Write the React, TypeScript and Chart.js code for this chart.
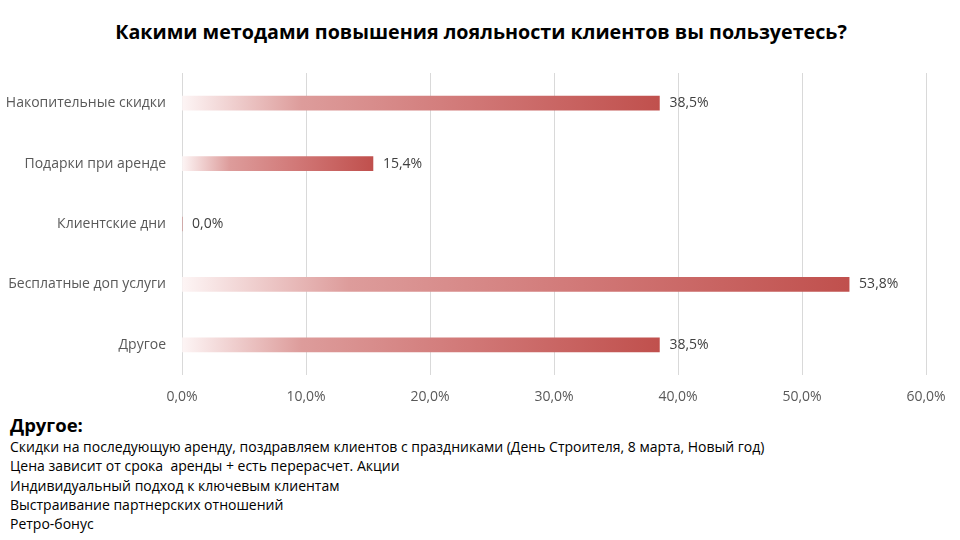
import { useEffect, useRef } from "react";
import { Chart, registerables } from "chart.js";

Chart.register(...registerables);

const title = "Какими методами повышения лояльности клиентов вы пользуетесь?";
const categories = [
  "Накопительные скидки",
  "Подарки при аренде",
  "Клиентские дни",
  "Бесплатные доп услуги",
  "Другое",
];
const shares = [38.5, 15.4, 0.0, 53.8, 38.5];
const otherHeading = "Другое:";
const otherAnswers = [
  "Скидки на последующую аренду, поздравляем клиентов с праздниками (День Строителя, 8 марта, Новый год)",
  "Цена зависит от срока  аренды + есть перерасчет. Акции",
  "Индивидуальный подход к ключевым клиентам",
  "Выстраивание партнерских отношений",
  "Ретро-бонус",
];

const FONT = "'Open Sans', 'Noto Sans', sans-serif";
const fmt = (v: number) => v.toFixed(1).replace(".", ",") + "%";

// value labels to the right of each bar
const barLabels = {
  id: "barLabels",
  afterDatasetsDraw(chart: any) {
    const ctx = chart.ctx;
    const meta = chart.getDatasetMeta(0);
    ctx.save();
    ctx.font = `14px ${FONT}`;
    ctx.fillStyle = "#404040";
    ctx.textBaseline = "middle";
    ctx.textAlign = "left";
    meta.data.forEach((el: any, i: number) => {
      ctx.fillText(fmt(shares[i]), el.x + 10, el.y);
    });
    ctx.restore();
  },
};

const ChartComponent = () => {
  const chartRef = useRef<HTMLCanvasElement | null>(null);

  useEffect(() => {
    document.body.style.margin = "0";
    if (!chartRef.current) return;
    const chartInstance = new Chart(chartRef.current, {
      type: "bar",
      data: {
        labels: categories,
        datasets: [
          {
            data: shares,
            barThickness: 14,
            backgroundColor: (c: any) => {
              const chart = c.chart;
              if (!chart.chartArea) return "#C0504D";
              const xs = chart.scales.x;
              const x0 = xs.getPixelForValue(0);
              const x1 = xs.getPixelForValue(c.raw);
              if (x1 - x0 < 1) return "#C0504D";
              const g = chart.ctx.createLinearGradient(x0, 0, x1, 0);
              g.addColorStop(0, "#FDF5F5");
              g.addColorStop(0.25, "#DD9C9B");
              g.addColorStop(0.6, "#D17877");
              g.addColorStop(1, "#C0504D");
              return g;
            },
          },
        ],
      },
      options: {
        indexAxis: "y",
        responsive: false,
        animation: false,
        layout: { padding: { left: 0, right: 34, top: 73, bottom: 0 } },
        plugins: {
          legend: { display: false },
          tooltip: { enabled: false },
          title: { display: false },
        },
        scales: {
          x: {
            min: 0,
            max: 60,
            ticks: {
              stepSize: 10,
              callback: (v: any) => fmt(Number(v)),
              color: "#595959",
              font: { family: FONT, size: 14 },
              padding: 14,
            },
            grid: { color: "#D9D9D9", drawTicks: false },
            border: { display: false },
            afterFit: (s: any) => {
              s.height = 35;
            },
          },
          y: {
            ticks: {
              color: "#595959",
              font: { family: FONT, size: 14 },
              padding: 16,
            },
            grid: { display: false, drawTicks: false },
            border: { display: false },
            afterFit: (s: any) => {
              s.width = 182;
            },
          },
        },
      },
      plugins: [barLabels],
    });

    return () => {
      chartInstance.destroy();
    };
  }, []);

  return (
    <div style={{ position: "relative", width: 960, height: 540, background: "#fff", fontFamily: FONT }}>
      <div
        style={{
          position: "absolute",
          left: 0,
          top: 20,
          width: 962,
          textAlign: "center",
          fontWeight: "bold",
          fontSize: 19.7,
          lineHeight: "24px",
          color: "#000",
        }}
      >
        {title}
      </div>
      <canvas ref={chartRef} width={960} height={410} style={{ position: "absolute", left: 0, top: 0 }} />
      <div style={{ position: "absolute", left: 10, top: 412, color: "#000" }}>
        <div style={{ fontWeight: "bold", fontSize: 18.5, lineHeight: "25px" }}>{otherHeading}</div>
        {otherAnswers.map((t, i) => (
          <div key={i} style={{ fontSize: 14, lineHeight: "19.3px", whiteSpace: "pre" }}>
            {t}
          </div>
        ))}
      </div>
    </div>
  );
};

export default function App() {
  return <ChartComponent />;
}
